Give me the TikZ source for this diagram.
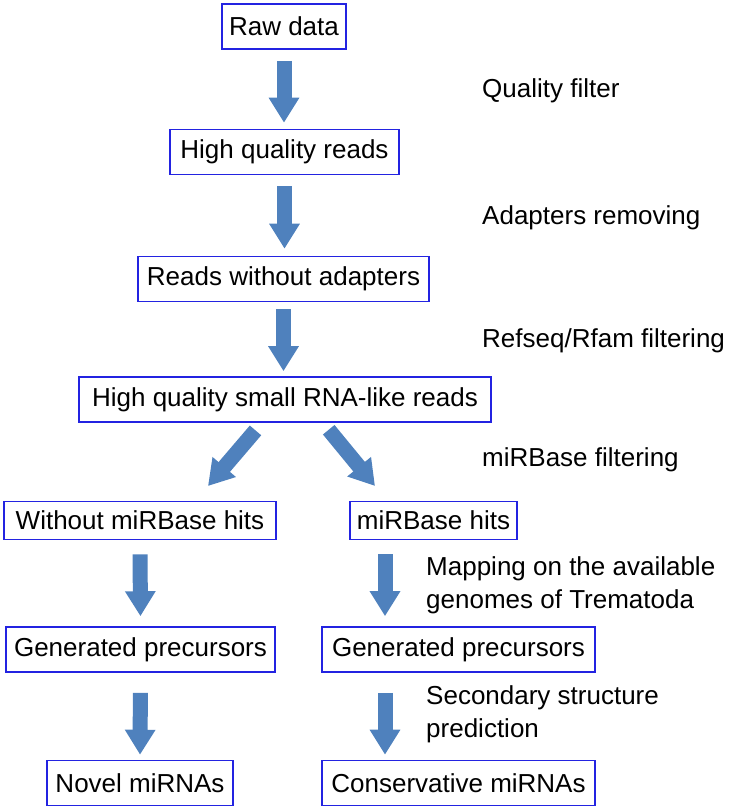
\documentclass[tikz,border=0pt]{standalone}
\usepackage{fontspec}
\setmainfont{Liberation Sans}
\usetikzlibrary{arrows.meta}
\definecolor{boxblue}{RGB}{35,35,225}
\definecolor{flowblue}{RGB}{79,129,189}
\newcommand{\flowfont}{\fontsize{26}{33}\selectfont}

\begin{document}
\begin{tikzpicture}[x=1pt, y=-1pt,
  every node/.style={font=\flowfont},
  box/.style={draw=boxblue, line width=1.6pt, inner sep=0pt, minimum height=45pt},
  note/.style={anchor=base west, inner sep=0pt, align=left},
  flow/.style={draw=flowblue, line width=15pt, shorten <=9pt, shorten >=6pt, -{Triangle[width=29pt,length=25pt]}}]
\useasboundingbox (0,0) rectangle (733,810);
% main column
\node[box, minimum width=124pt] (raw) at (284,26.5) {Raw data};
\node[box, minimum width=229pt] (hq) at (284.5,152) {High quality reads};
\node[box, minimum width=291pt] (noadapt) at (283.5,279) {Reads without adapters};
\node[box, minimum width=412pt] (small) at (285,399.5) {High quality small RNA-like reads};
% two branches
\node[box, minimum width=272pt, minimum height=38pt] (without) at (140,520.5) {Without miRBase hits};
\node[box, minimum width=167pt, minimum height=38pt] (hits) at (433.5,520.5) {miRBase hits};
\node[box, minimum width=269pt] (genL) at (140.5,649.5) {Generated precursors};
\node[box, minimum width=273pt] (genR) at (458.5,649.5) {Generated precursors};
\node[box, minimum width=186pt] (novel) at (140,783) {Novel miRNAs};
\node[box, minimum width=273pt] (cons) at (458.5,783) {Conservative miRNAs};

% step notes (base = last line)
\node[note] (nqual) at (482,98) {Quality filter};
\node[note] (nadapt) at (482,225) {Adapters removing};
\node[note] (nrfam) at (482,347) {Refseq/Rfam filtering};
\node[note] (nmirb) at (482,466) {miRBase filtering};
\node[note] (nmap) at (426,608) {Mapping on the available\\genomes of Trematoda};
\node[note] (nfold) at (426,737) {Secondary structure\\prediction};

% arrows
\draw[flow, shorten <=11pt] (raw.south) -- (raw.south |- hq.north);
\draw[flow, shorten <=11pt, shorten >=7pt] (hq.south) -- (hq.south |- noadapt.north);
\draw[flow, shorten <=7pt, shorten >=5pt] (noadapt.south) -- (noadapt.south |- small.north);
\coordinate (tipL) at (208,486);
\coordinate (tipR) at (375,486);
\draw[flow, shorten <=10pt, shorten >=0pt] ([xshift=-23pt]small.south) -- (tipL);
\draw[flow, shorten <=9pt, shorten >=0pt] ([xshift=38pt]small.south) -- (tipR);
\draw[flow, shorten <=14pt, shorten >=10pt] (without.south) -- (genL.north);
\draw[flow, shorten <=20pt, shorten >=5pt] (genL.south) -- (novel.north);
\coordinate (rcol) at (385,0);
\draw[flow, shorten <=14pt, shorten >=10pt] (hits.south -| rcol) -- (genR.north -| rcol);
\draw[flow, shorten <=20pt, shorten >=5pt] (genR.south -| rcol) -- (cons.north -| rcol);
\end{tikzpicture}
\end{document}
